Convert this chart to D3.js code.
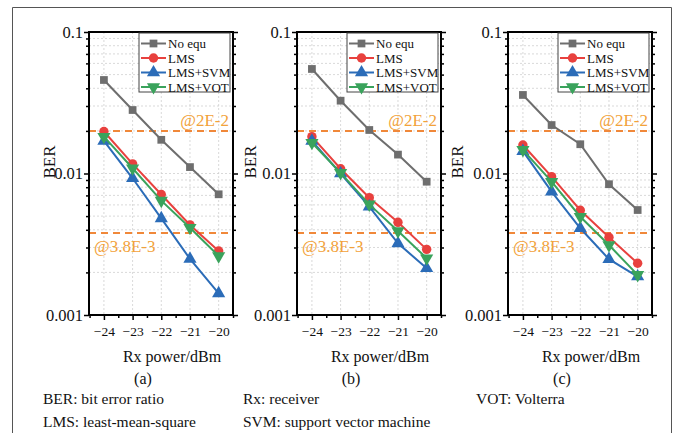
<!DOCTYPE html>
<html><head><meta charset="utf-8">
<script src="https://cdn.jsdelivr.net/npm/d3@7"></script>
<style>
html,body{margin:0;padding:0;background:#fff;}
svg{display:block;}
svg text{font-family:"Liberation Serif","Times New Roman",serif;}
</style></head>
<body>
<svg id="chart" width="679" height="433"></svg>
<script>
// ---------- data ----------
const xValues = [-24, -23, -22, -21, -20];
const xTickLabels = ["\u221224", "\u221223", "\u221222", "\u221221", "\u221220"];
const yTickValues = [0.001, 0.01, 0.1];
const yTickLabels = ["0.001", "0.01", "0.1"];
const seriesNames = ["No equ", "LMS", "LMS+SVM", "LMS+VOT"];
const panelLabels = ["(a)", "(b)", "(c)"];
const thresholds = [0.02, 0.0038];
const thresholdLabels = ["@2E-2", "@3.8E-3"];

// panel (a)
const a_noEqu = [0.0458, 0.0281, 0.0173, 0.0111, 0.00713];
const a_lms   = [0.0198, 0.0117, 0.0071, 0.00433, 0.00283];
const a_svm   = [0.0170, 0.00925, 0.00482, 0.00249, 0.00142];
const a_vot   = [0.0182, 0.0109, 0.00643, 0.00414, 0.00261];
// panel (b)
const b_noEqu = [0.0548, 0.0327, 0.0203, 0.0136, 0.00875];
const b_lms   = [0.0182, 0.0108, 0.00675, 0.00452, 0.00291];
const b_svm   = [0.0170, 0.0100, 0.00583, 0.00321, 0.00214];
const b_vot   = [0.0165, 0.0101, 0.00605, 0.00392, 0.00252];
// panel (c)
const c_noEqu = [0.0359, 0.0220, 0.0161, 0.0084, 0.00552];
const c_lms   = [0.0159, 0.0095, 0.0055, 0.00354, 0.00232];
const c_svm   = [0.0144, 0.00745, 0.0041, 0.00248, 0.00187];
const c_vot   = [0.0147, 0.00875, 0.00495, 0.00312, 0.00192];

const footnotes = [
  ["BER: bit error ratio", "Rx: receiver", "VOT: Volterra"],
  ["LMS: least-mean-square", "SVM: support vector machine"]
];

// ---------- layout / style ----------
const FONT = '"Liberation Serif","Times New Roman",serif';
const panels = [
  {left: 89,  series: [a_noEqu, a_lms, a_svm, a_vot], label: panelLabels[0], berOff: 40},
  {left: 297, series: [b_noEqu, b_lms, b_svm, b_vot], label: panelLabels[1], berOff: 47},
  {left: 508, series: [c_noEqu, c_lms, c_svm, c_vot], label: panelLabels[2], berOff: 51}
];
const plotW = 144, plotTop = 32, plotH = 283;
const colors = ["#6e6e6e", "#e8413e", "#2b6cb8", "#3aa35c"];
const symbols = [d3.symbolSquare, d3.symbolCircle, d3.symbolTriangle, d3.symbolTriangle];
const symSize = [60, 70, 75, 75];
const symRot = [0, 0, 0, 180];
const orange = "#f0883a", orangeText = "#f2a23a";

const svg = d3.select("#chart").attr("font-family", FONT);
const txt = (parent) => parent.append("text").style("font-family", FONT);

// outer frame (top, left, right)
svg.append("path")
  .attr("d", "M12.5,440 L12.5,7.5 L671.5,7.5 L671.5,440")
  .attr("fill", "none").attr("stroke", "#555").attr("stroke-width", 1);

panels.forEach((p, pi) => {
  const x = d3.scaleLinear().domain([-24.52, -19.5]).range([p.left, p.left + plotW]);
  const y = d3.scaleLog().domain([0.001, 0.1]).range([plotTop + plotH, plotTop]);
  const g = svg.append("g");

  // grid
  const minorY = [];
  [0.001, 0.01].forEach(d => { for (let k = 1; k <= 9; k++) minorY.push(d * k); });
  minorY.push(0.1);
  g.selectAll(".hg").data(minorY).enter().append("line")
    .attr("x1", p.left).attr("x2", p.left + plotW)
    .attr("y1", d => y(d)).attr("y2", d => y(d))
    .attr("stroke", "#cfcfcf").attr("stroke-width", 0.8).attr("stroke-dasharray", "2,2");
  g.selectAll(".vg").data(xValues).enter().append("line")
    .attr("x1", d => x(d)).attr("x2", d => x(d))
    .attr("y1", plotTop).attr("y2", plotTop + plotH)
    .attr("stroke", "#cfcfcf").attr("stroke-width", 0.8).attr("stroke-dasharray", "2,2");

  // threshold lines
  thresholds.forEach(t => {
    g.append("line")
      .attr("x1", p.left).attr("x2", p.left + plotW)
      .attr("y1", y(t)).attr("y2", y(t))
      .attr("stroke", orange).attr("stroke-width", 2).attr("stroke-dasharray", "7,5");
  });
  txt(g).attr("x", p.left + plotW - 4).attr("y", y(thresholds[0]) - 5)
    .attr("text-anchor", "end").attr("font-size", 17).attr("fill", orangeText)
    .text(thresholdLabels[0]);
  txt(g).attr("x", p.left + 5).attr("y", y(thresholds[1]) + 19)
    .attr("text-anchor", "start").attr("font-size", 17).attr("fill", orangeText)
    .text(thresholdLabels[1]);

  // series
  const line = d3.line().x((d, i) => x(xValues[i])).y(d => y(d));
  p.series.forEach((vals, si) => {
    g.append("path").datum(vals).attr("d", line)
      .attr("fill", "none").attr("stroke", colors[si]).attr("stroke-width", 2);
    g.selectAll(".m" + si).data(vals).enter().append("path")
      .attr("d", d3.symbol().type(symbols[si]).size(symSize[si]))
      .attr("transform", (d, i) => `translate(${x(xValues[i])},${y(d)}) rotate(${symRot[si]})`)
      .attr("fill", colors[si]);
  });

  // axes
  const minorTicks = minorY.filter(d => yTickValues.indexOf(d) < 0 && Math.abs(Math.log10(d) % 1) > 1e-9);
  const leftMajor = d3.axisLeft(y).tickValues(yTickValues).tickFormat((d, i) => yTickLabels[i]).tickSize(5).tickPadding(1);
  const leftMinor = d3.axisLeft(y).tickValues(minorTicks).tickFormat("").tickSize(3);
  const rightMajor = d3.axisRight(y).tickValues(yTickValues).tickFormat("").tickSize(5);
  const rightMinor = d3.axisRight(y).tickValues(minorTicks).tickFormat("").tickSize(3);
  const halfTicks = [-24.5, -23.5, -22.5, -21.5, -20.5, -19.5];
  const bottomMajor = d3.axisBottom(x).tickValues(xValues).tickFormat((d, i) => xTickLabels[i]).tickSize(5).tickPadding(6);
  const bottomMinor = d3.axisBottom(x).tickValues(halfTicks).tickFormat("").tickSize(3);

  const styleAxis = sel => {
    sel.attr("font-family", FONT);
    sel.select(".domain").remove();
    sel.selectAll(".tick line").attr("stroke", "#000").attr("stroke-width", 1.5);
    sel.selectAll("text").attr("fill", "#111").style("font-family", FONT);
  };
  g.append("g").attr("transform", `translate(${p.left},0)`).call(leftMajor).call(styleAxis)
    .selectAll("text").attr("font-size", 16.5);
  g.append("g").attr("transform", `translate(${p.left},0)`).call(leftMinor).call(styleAxis);
  g.append("g").attr("transform", `translate(${p.left + plotW},0)`).call(rightMajor).call(styleAxis);
  g.append("g").attr("transform", `translate(${p.left + plotW},0)`).call(rightMinor).call(styleAxis);
  g.append("g").attr("transform", `translate(0,${plotTop + plotH})`).call(bottomMajor).call(styleAxis)
    .selectAll("text").attr("font-size", 13.5);
  g.append("g").attr("transform", `translate(0,${plotTop + plotH})`).call(bottomMinor).call(styleAxis);

  // frame
  g.append("rect").attr("x", p.left).attr("y", plotTop).attr("width", plotW).attr("height", plotH)
    .attr("fill", "none").attr("stroke", "#000").attr("stroke-width", 2);

  // legend
  const lgW = 91, lgH = 59;
  const lx = p.left + plotW - lgW - 3, ly = plotTop + 1;
  const lg = g.append("g");
  lg.append("rect").attr("x", lx).attr("y", ly).attr("width", lgW).attr("height", lgH)
    .attr("fill", "#fff").attr("stroke", "#444").attr("stroke-width", 1);
  seriesNames.forEach((name, si) => {
    const yy = ly + 10.5 + si * 14.5;
    lg.append("line").attr("x1", lx + 2).attr("x2", lx + 27).attr("y1", yy).attr("y2", yy)
      .attr("stroke", colors[si]).attr("stroke-width", 2);
    lg.append("path").attr("d", d3.symbol().type(symbols[si]).size(symSize[si]))
      .attr("transform", `translate(${lx + 14.5},${yy}) rotate(${symRot[si]})`)
      .attr("fill", colors[si]);
    txt(lg).attr("x", lx + 29).attr("y", yy + 4.5).attr("font-size", 13)
      .attr("fill", "#111").text(name);
  });

  // axis titles
  txt(svg).attr("transform", `translate(${p.left - p.berOff + 6},162) rotate(-90)`)
    .attr("text-anchor", "middle").attr("font-size", 17).attr("fill", "#111").text("BER");
  txt(svg).attr("x", p.left + 83).attr("y", 362).attr("text-anchor", "middle")
    .attr("font-size", 16).attr("fill", "#111").text("Rx power/dBm");
  txt(svg).attr("x", p.left + 54).attr("y", 384).attr("text-anchor", "middle")
    .attr("font-size", 16).attr("fill", "#111").text(p.label);
});

// footnotes
const fnX = [43, 243, 476];
footnotes.forEach((row, ri) => {
  row.forEach((t, ci) => {
    txt(svg).attr("x", fnX[ci]).attr("y", 404 + ri * 23)
      .attr("font-size", 15.5).attr("fill", "#111").text(t);
  });
});
</script>
</body></html>
